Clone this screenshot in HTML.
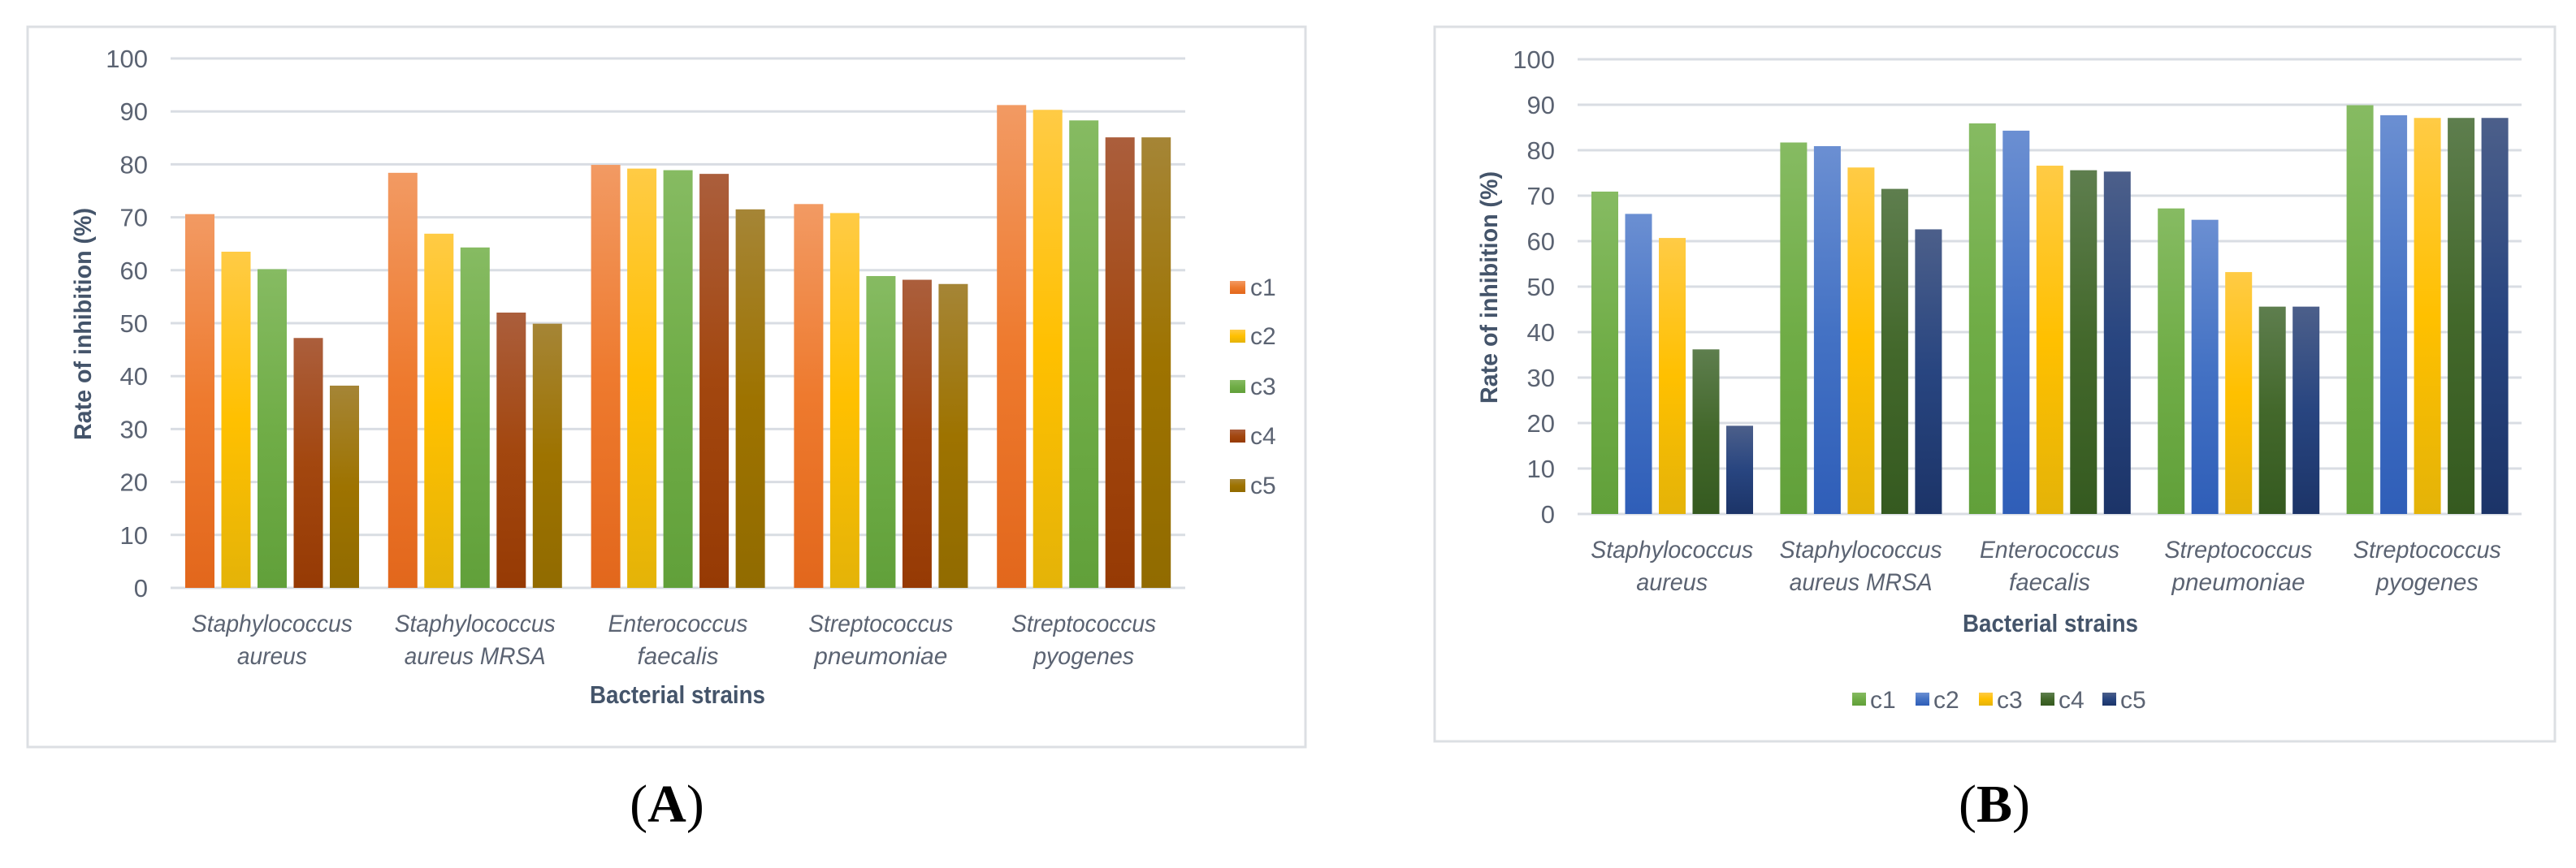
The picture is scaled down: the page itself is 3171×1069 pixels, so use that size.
<!DOCTYPE html>
<html><head><meta charset="utf-8"><style>
html,body{margin:0;padding:0;background:#fff;}
svg{display:block;}
text{font-family:"Liberation Sans",sans-serif;}
</style></head><body>
<svg id="fig" width="3171" height="1069" viewBox="0 0 3171 1069" xmlns="http://www.w3.org/2000/svg">
<defs id="defs"></defs>
<rect x="34" y="33" width="1573" height="887" fill="#fff" stroke="#dcdfe3" stroke-width="3"/>
<rect x="1766" y="33" width="1379" height="880" fill="#fff" stroke="#dcdfe3" stroke-width="3"/>
<g id="chartA"></g>
<g id="chartB"></g>
<text x="821" y="1012" text-anchor="middle" font-size="66" style="font-family:'Liberation Serif',serif">(<tspan font-weight="bold">A</tspan>)</text>
<text x="2455" y="1012" text-anchor="middle" font-size="66" style="font-family:'Liberation Serif',serif">(<tspan font-weight="bold">B</tspan>)</text>
</svg>
<script>
const categories = [["Staphylococcus","aureus"],["Staphylococcus","aureus MRSA"],["Enterococcus","faecalis"],["Streptococcus","pneumoniae"],["Streptococcus","pyogenes"]];
const seriesNames = ["c1","c2","c3","c4","c5"];
const yTicks = [0,10,20,30,40,50,60,70,80,90,100];
const valuesA_c1 = [70.6,78.4,79.9,72.5,91.2];
const valuesA_c2 = [63.5,66.9,79.2,70.8,90.3];
const valuesA_c3 = [60.2,64.3,78.9,58.9,88.3];
const valuesA_c4 = [47.2,52.0,78.2,58.2,85.1];
const valuesA_c5 = [38.2,49.9,71.5,57.4,85.1];
const valuesB_c1 = [70.9,81.7,85.9,67.2,89.9];
const valuesB_c2 = [66.0,80.9,84.3,64.7,87.7];
const valuesB_c3 = [60.7,76.2,76.6,53.2,87.1];
const valuesB_c4 = [36.2,71.5,75.6,45.6,87.1];
const valuesB_c5 = [19.4,62.6,75.3,45.6,87.1];

const NS="http://www.w3.org/2000/svg";
const defs=document.getElementById('defs');
function mk(tag,attrs,parent){const e=document.createElementNS(NS,tag);for(const k in attrs)e.setAttribute(k,attrs[k]);parent.appendChild(e);return e;}
function grad(id,top,mid,bot){const g=mk('linearGradient',{id:id,x1:0,y1:0,x2:0,y2:1},defs);
 mk('stop',{offset:'0',  'stop-color':top},g);mk('stop',{offset:'0.5','stop-color':mid},g);mk('stop',{offset:'1','stop-color':bot},g);}
const colA=[["#f29a63","#ee7a2e","#e2671c"],["#ffcb45","#ffc000","#e4b308"],["#86bb62","#70ad47","#61a03a"],["#ab5e3c","#a3470f","#963a04"],["#a58536","#9e7300","#916b00"]];
const colB=[["#86bb62","#70ad47","#61a03a"],["#6b8fd2","#4472c4","#2f5eb8"],["#ffcb45","#ffc000","#e4b308"],["#5e7e4e","#43682b","#355a20"],["#4c5f8a","#284580","#1c3468"]];
colA.forEach((c,i)=>grad('gA'+i,c[0],c[1],c[2]));
colB.forEach((c,i)=>grad('gB'+i,c[0],c[1],c[2]));

function draw(g,cfg,series){
 const y=v=>cfg.y0-(v/100)*(cfg.y0-cfg.y100);
 const cw=(cfg.x1-cfg.x0)/categories.length;
 yTicks.forEach(t=>{
  const l=mk('line',{x1:cfg.x0,x2:cfg.x1,y1:y(t),y2:y(t),stroke:'#d9dde3','stroke-width':3},g);
  
  
  const tx=mk('text',{x:cfg.tickX,y:y(t)+11,'text-anchor':'end','font-size':31,fill:'#5b6372'},g);
  
  
  tx.textContent=t;
 });
 categories.forEach((cat,ci)=>{
  const start=cfg.x0+ci*cw+cfg.pad;
  series.forEach((vals,si)=>{
   const v=vals[ci];
   const r=mk('rect',{x:start+si*cfg.step,y:y(v),width:cfg.bw,height:y(0)-y(v),fill:'url(#'+cfg.gp+si+')'},g);
   
   
  });
  cat.forEach((line,li)=>{
   const t=mk('text',{x:cfg.x0+ci*cw+cw/2,y:cfg.catY+li*cfg.catGap,'text-anchor':'middle','font-size':30,'font-style':'italic',fill:'#5b6372',textLength:cfg.tl[li][ci],lengthAdjust:'spacingAndGlyphs'},g);
   
   
   t.textContent=line;
  });
 });
 const xt=mk('text',{x:cfg.xtX,y:cfg.xtY,'text-anchor':'middle','font-size':31,'font-weight':'bold',fill:'#44546a',textLength:216,lengthAdjust:'spacingAndGlyphs'},g);
 
 
 xt.textContent='Bacterial strains';
 const yt=mk('text',{x:0,y:0,'text-anchor':'middle','font-size':30,'font-weight':'bold',fill:'#44546a',transform:'translate('+cfg.ytX+','+cfg.ytY+') rotate(-90)',textLength:cfg.ytLen,lengthAdjust:'spacingAndGlyphs'},g);
 
 
 yt.textContent='Rate of inhibition (%)';
}
const tlA=[[198,198,172,178,178],[86,174,100,164,124]];
draw(document.getElementById('chartA'),{x0:210,x1:1459,y0:724,y100:72,pad:18,bw:36,step:44.5,gp:'gA',tickX:182,catY:778,catGap:40,xtX:834,xtY:866,ytX:112,ytY:399,ytLen:286,tl:tlA},
 [valuesA_c1,valuesA_c2,valuesA_c3,valuesA_c4,valuesA_c5]);
const tlB=[[200,200,172,182,182],[88,176,100,164,126]];
draw(document.getElementById('chartB'),{x0:1942,x1:3104,y0:633,y100:73,pad:17,bw:33,step:41.5,gp:'gB',tickX:1914,catY:687,catGap:40,xtX:2524,xtY:778,ytX:1843,ytY:354,ytLen:286,tl:tlB},
 [valuesB_c1,valuesB_c2,valuesB_c3,valuesB_c4,valuesB_c5]);

// legends
const gA=document.getElementById('chartA');
const lgA=mk('g',{},gA);


[354,414,476,537,598].forEach((cy,i)=>{
 const r=mk('rect',{x:1514,y:cy-8,width:19,height:16,fill:'url(#gA'+i+')'},lgA);
 
 
 const t=mk('text',{x:1539,y:cy+10,'font-size':30,fill:'#5b6372'},lgA);
 
 
 t.textContent=seriesNames[i];
});
const gB=document.getElementById('chartB');
const lgB=mk('g',{},gB);


[2280,2358,2436,2512,2588].forEach((lx,i)=>{
 const r=mk('rect',{x:lx,y:853,width:17,height:16,fill:'url(#gB'+i+')'},lgB);
 
 
 const t=mk('text',{x:lx+22,y:872,'font-size':30,fill:'#5b6372'},lgB);
 
 
 t.textContent=seriesNames[i];
});
</script>
</body></html>
